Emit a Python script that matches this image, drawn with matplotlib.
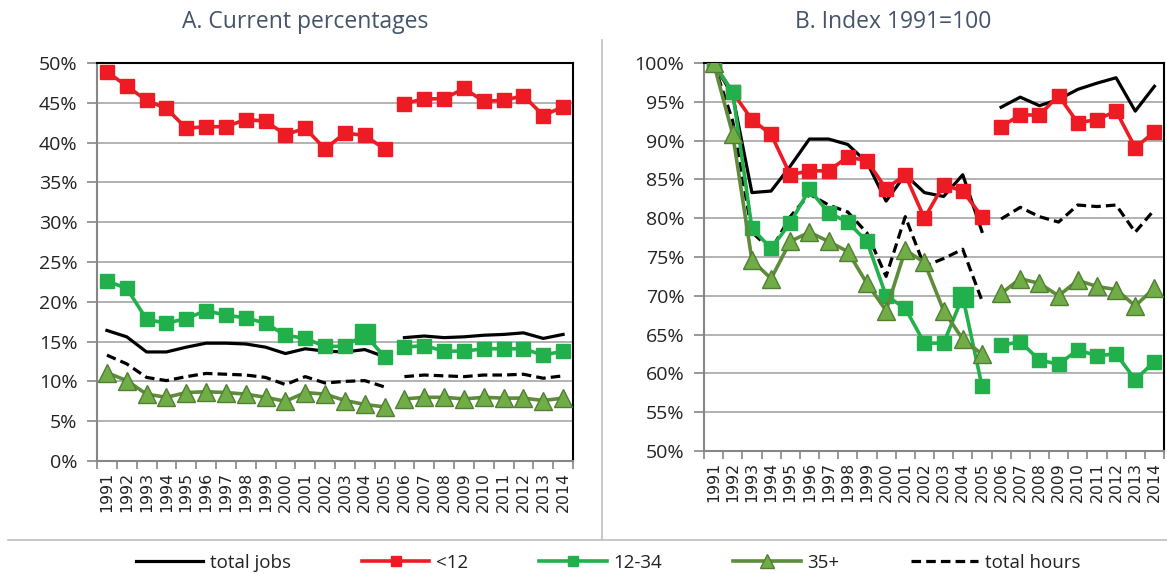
import matplotlib
matplotlib.use("Agg")
import matplotlib.pyplot as plt
from matplotlib.lines import Line2D

plt.rcParams['font.family'] = ['Open Sans', 'DejaVu Sans']

# =========================
# DATA
# =========================
years = [str(y) for y in range(1991, 2015)]

# A. current percentages
a_total_jobs = [16.4, 15.6, 13.7, 13.7, 14.3, 14.8, 14.8, 14.7, 14.3, 13.5, 14.1, 13.8,
                13.7, 14.0, 13.1, 15.5, 15.7, 15.5, 15.6, 15.8, 15.9, 16.1, 15.4, 15.9]
a_lt12 = [48.9, 47.1, 45.3, 44.3, 41.8, 42.0, 42.0, 42.9, 42.7, 41.0, 41.8, 39.2,
          41.2, 40.9, 39.2, 44.9, 45.5, 45.5, 46.8, 45.2, 45.3, 45.9, 43.4, 44.5]
a_12_34 = [22.6, 21.7, 17.8, 17.3, 17.9, 18.9, 18.3, 18.0, 17.3, 15.8, 15.4, 14.4,
           14.4, 15.9, 13.1, 14.3, 14.5, 13.8, 13.8, 14.1, 14.1, 14.1, 13.3, 13.8]
a_35plus = [11.1, 10.1, 8.4, 8.0, 8.6, 8.7, 8.6, 8.4, 8.0, 7.5, 8.6, 8.4,
            7.6, 7.1, 6.8, 7.8, 8.0, 8.0, 7.8, 8.0, 7.9, 7.9, 7.6, 7.9]
a_total_hours = [13.3, 12.2, 10.5, 10.1, 10.6, 11.0, 10.9, 10.8, 10.5, 9.6, 10.6, 9.8,
                 10.0, 10.1, 9.3, 10.6, 10.8, 10.7, 10.6, 10.8, 10.8, 10.9, 10.4, 10.7]

# B. index 1991=100
b_total_jobs = [100, 95.8, 83.3, 83.5, 86.7, 90.2, 90.2, 89.5, 87.2, 82.2, 85.6, 83.3,
                82.8, 85.6, 78.3, 94.3, 95.6, 94.5, 95.3, 96.6, 97.4, 98.1, 93.8, 97.0]
b_lt12 = [100, 96.2, 92.7, 90.8, 85.6, 86.1, 86.1, 87.9, 87.4, 83.8, 85.6, 80.0,
          84.3, 83.5, 80.2, 91.8, 93.3, 93.3, 95.8, 92.3, 92.7, 93.8, 89.1, 91.1]
b_12_34 = [100, 96.2, 78.7, 76.1, 79.4, 83.7, 80.7, 79.5, 77.0, 70.0, 68.4, 63.9,
           63.9, 69.9, 58.4, 63.6, 64.1, 61.7, 61.2, 63.0, 62.3, 62.5, 59.2, 61.5]
b_35plus = [100, 90.8, 74.6, 72.2, 77.0, 78.2, 77.0, 75.7, 71.6, 68.1, 75.9, 74.3,
            68.1, 64.4, 62.5, 70.3, 72.2, 71.6, 70.0, 72.0, 71.2, 70.8, 68.7, 71.0]
b_total_hours = [100, 92.5, 78.2, 75.9, 80.2, 83.1, 81.7, 80.8, 78.1, 72.5, 80.2, 73.8,
                 74.8, 76.0, 69.4, 79.9, 81.4, 80.2, 79.5, 81.7, 81.5, 81.7, 78.2, 81.1]

highlight_year = "2004"   # enlarged 12-34 marker

# =========================
# STYLES
# =========================
RED = "#ED1C24"
GREEN = "#21B04B"
OLIVE = "#5E8C3A"
OLIVE_FILL = "#70AD47"
GRID = "#A6A6A6"

styles = {
    "total jobs": dict(color="black", lw=2.3, zorder=3),
    "<12": dict(color=RED, lw=2.6, marker="s", ms=10, mfc=RED, mec=RED, zorder=4),
    "12-34": dict(color=GREEN, lw=2.6, marker="s", ms=10, mfc=GREEN, mec=GREEN, zorder=5),
    "35+": dict(color=OLIVE, lw=2.6, marker="^", ms=13, mfc=OLIVE_FILL, mec="#507E32", mew=1, zorder=6),
    "total hours": dict(color="black", lw=2.3, ls=(0, (3, 1.6)), zorder=3),
}

fig = plt.figure(figsize=(11.67, 5.74), dpi=100)
ax_a = fig.add_axes([97 / 1167, 1 - 461 / 574, 476 / 1167, 398 / 574])
ax_b = fig.add_axes([704 / 1167, 1 - 451 / 574, 460 / 1167, 388 / 574])

x = list(range(len(years)))
hi = years.index(highlight_year)


def draw(ax, series, ylo, yhi):
    for name, vals in series:
        st = styles[name]
        # series break between 2005 and 2006
        ax.plot(x[:15], vals[:15], **st)
        ax.plot(x[15:], vals[15:], **st)
        if name == "12-34":
            ax.plot([x[hi]], [vals[hi]], marker="s", ms=15, color=GREEN, zorder=7)

    ax.set_xlim(-0.5, len(years) - 0.5)
    ax.set_ylim(ylo, yhi)
    ax.set_yticks(range(ylo, yhi + 1, 5))
    ax.set_yticklabels([f"{v}%" for v in range(ylo, yhi + 1, 5)], fontsize=14, color="#222222")
    ax.set_xticks(x)
    ax.set_xticklabels(years, rotation=90, fontsize=11.3, color="#222222", family="DejaVu Sans")
    ax.set_xticks([i - 0.5 for i in range(len(years) + 1)], minor=True)
    ax.tick_params(axis="x", which="major", length=0, pad=8)
    ax.tick_params(axis="x", which="minor", length=6, color="#868686", width=1.2)
    ax.tick_params(axis="y", length=7, color="#868686", width=1.2, pad=7)
    ax.grid(axis="y", color=GRID, lw=1.2, zorder=0)
    ax.set_axisbelow(True)
    for s in ["left", "bottom"]:
        ax.spines[s].set_color("#868686")
        ax.spines[s].set_linewidth(1.5)
    for s in ["top", "right"]:
        ax.spines[s].set_color("black")
        ax.spines[s].set_linewidth(1.5)


draw(ax_a, [("total hours", a_total_hours), ("total jobs", a_total_jobs), ("<12", a_lt12),
            ("12-34", a_12_34), ("35+", a_35plus)], 0, 50)
draw(ax_b, [("total hours", b_total_hours), ("total jobs", b_total_jobs), ("<12", b_lt12),
            ("12-34", b_12_34), ("35+", b_35plus)], 50, 100)

# titles
fig.text(305 / 1167, 1 - 22 / 574, "A. Current percentages", ha="center", va="center",
         fontsize=16.5, color="#44546A")
fig.text(893 / 1167, 1 - 22 / 574, "B. Index 1991=100", ha="center", va="center",
         fontsize=16.5, color="#44546A")

# panel frame lines
fig.add_artist(Line2D([602 / 1167, 602 / 1167], [1 - 40 / 574, 1 - 540 / 574],
                      transform=fig.transFigure, color="#BFBFBF", lw=1.2))
fig.add_artist(Line2D([8 / 1167, 1.0], [1 - 540 / 574, 1 - 540 / 574],
                      transform=fig.transFigure, color="#BFBFBF", lw=1.2))

# legend
order = ["total jobs", "<12", "12-34", "35+", "total hours"]
handles = [Line2D([], [], **{k: v for k, v in styles[n].items() if k != "zorder"}) for n in order]
fig.legend(handles, order, loc="center", bbox_to_anchor=(608 / 1167, 1 - 563 / 574), ncol=5,
           frameon=False, fontsize=13.5, handlelength=3.6, columnspacing=3.8, handletextpad=0.35,
           labelcolor="#222222", markerscale=0.75)

fig.savefig("out.png", dpi=100)
